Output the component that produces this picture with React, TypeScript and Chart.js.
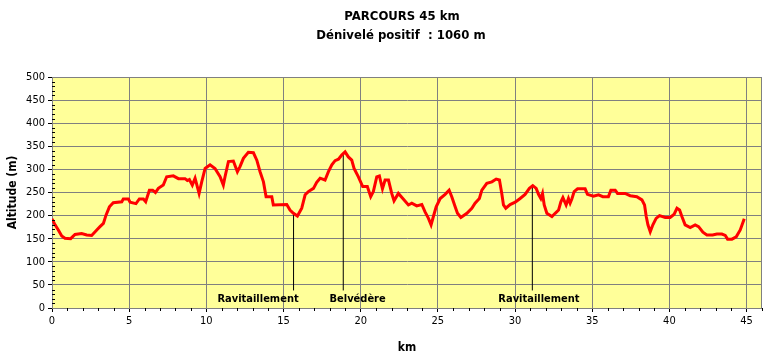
import React, { useEffect, useRef } from 'react';
import { Chart, registerables } from 'chart.js';
Chart.register(...registerables);

const kmValues = [
  0.0, 0.2, 0.41, 0.63, 0.84, 1.21, 1.49, 1.92, 2.25, 2.57, 2.9, 3.11, 3.33, 3.5, 3.72, 3.97, 4.52, 4.62, 4.95, 5.06,
  5.44, 5.66, 5.92, 6.07, 6.31, 6.52, 6.7, 6.89, 7.21, 7.43, 7.86, 8.19, 8.62, 8.77, 8.9, 9.09, 9.27, 9.53, 9.7, 9.92,
  10.24, 10.56, 10.89, 11.1, 11.21, 11.43, 11.75, 12.01, 12.18, 12.4, 12.72, 13.05, 13.27, 13.48, 13.7, 13.87, 14.24, 14.34, 15.21, 15.42,
  15.64, 15.9, 16.18, 16.4, 16.61, 16.94, 17.15, 17.37, 17.69, 17.91, 18.13, 18.34, 18.56, 18.77, 18.99, 19.2, 19.42, 19.57, 19.85, 20.13,
  20.43, 20.65, 20.82, 21.04, 21.21, 21.41, 21.58, 21.8, 22.01, 22.16, 22.44, 22.73, 23.09, 23.31, 23.63, 23.96, 24.17, 24.39, 24.56, 24.71,
  24.89, 25.15, 25.47, 25.73, 25.9, 26.12, 26.27, 26.49, 26.88, 27.2, 27.41, 27.69, 27.85, 28.17, 28.5, 28.78, 28.99, 29.14, 29.25, 29.4,
  29.68, 30.01, 30.33, 30.65, 30.93, 31.15, 31.37, 31.52, 31.67, 31.78, 31.89, 32.06, 32.39, 32.6, 32.82, 32.97, 33.1, 33.31, 33.46, 33.57,
  33.68, 33.83, 34.05, 34.54, 34.69, 35.08, 35.41, 35.69, 36.05, 36.21, 36.49, 36.64, 37.13, 37.46, 37.89, 38.22, 38.39, 38.5, 38.61, 38.76,
  38.93, 39.14, 39.36, 39.73, 40.05, 40.31, 40.49, 40.66, 40.81, 41.02, 41.35, 41.67, 41.89, 42.17, 42.43, 42.8, 43.08, 43.4, 43.62, 43.77,
  44.05, 44.33, 44.59, 44.85,
];

const altitudeValues = [
  193, 180, 169, 156, 151, 150, 159, 161, 158, 157, 169, 176, 183, 201, 219, 228, 230, 236, 236, 229,
  226, 236, 236, 230, 255, 255, 250, 259, 266, 284, 286, 280, 280, 276, 278, 266, 281, 248, 273, 302,
  310, 302, 284, 266, 284, 317, 318, 295, 306, 324, 337, 336, 320, 295, 273, 241, 241, 223, 224, 212,
  205, 199, 216, 245, 252, 259, 272, 281, 277, 295, 310, 319, 322, 331, 338, 327, 320, 302, 284, 263,
  263, 241, 252, 284, 286, 258, 277, 277, 248, 232, 248, 237, 223, 227, 221, 224, 208, 194, 180, 198,
  219, 237, 246, 255, 241, 219, 205, 196, 205, 216, 227, 237, 255, 270, 273, 279, 277, 248, 223, 216,
  224, 229, 237, 246, 259, 265, 259, 246, 237, 248, 223, 205, 198, 205, 212, 230, 239, 223, 237, 227,
  236, 252, 258, 258, 246, 242, 245, 241, 241, 255, 255, 248, 248, 243, 241, 234, 223, 198, 180, 165,
  180, 194, 200, 196, 196, 203, 216, 212, 198, 180, 174, 180, 176, 164, 158, 158, 160, 160, 157, 149,
  149, 154, 169, 193,
];

const markerKm = [15.65, 18.87, 31.12];
const markerTop = [203, 335, 263];
const markerBottom = 38;
const markerLabels = ['Ravitaillement', 'Belvédère', 'Ravitaillement'];
const markerLabelKm = [13.35, 19.8, 31.55];
const markerLabelAlt = 19;

const titleLines = ['PARCOURS 45 km', 'Dénivelé positif  : 1060 m'];
const xAxisTitle = 'km';
const yAxisTitle = 'Altitude (m)';

const FONT = "'Liberation Sans Narrow', 'DejaVu Sans Condensed', Arial, sans-serif";

const decorPlugin = {
  id: 'decor',
  beforeDraw(chart: any) {
    const { ctx, chartArea: a, width, height } = chart;
    ctx.save();
    ctx.fillStyle = '#ffffff';
    ctx.fillRect(0, 0, width, height);
    ctx.fillStyle = '#ffff99';
    ctx.fillRect(a.left, a.top, a.right - a.left, a.bottom - a.top);
    ctx.restore();
  },
  beforeDatasetsDraw(chart: any) {
    const { ctx, chartArea: a } = chart;
    ctx.save();
    ctx.strokeStyle = '#808080';
    ctx.lineWidth = 1;
    ctx.strokeRect(a.left + 0.5, a.top + 0.5, a.right - a.left - 1, a.bottom - a.top);
    ctx.restore();
  },
  afterDraw(chart: any) {
    const { ctx, chartArea: a } = chart;
    const xs = chart.scales.x;
    const ys = chart.scales.y;
    ctx.save();
    // minor ticks
    ctx.strokeStyle = '#000000';
    ctx.lineWidth = 1;
    ctx.beginPath();
    for (let v = 0; v <= 500; v += 10) {
      if (v % 50 === 0) continue;
      const y = Math.round(ys.getPixelForValue(v)) + 0.5;
      ctx.moveTo(a.left, y);
      ctx.lineTo(a.left + 3, y);
    }
    for (let k = 0; k <= 46; k += 1) {
      if (k % 5 === 0) continue;
      const x = Math.round(xs.getPixelForValue(k)) + 0.5;
      ctx.moveTo(x, a.bottom);
      ctx.lineTo(x, a.bottom + 3);
    }
    ctx.stroke();

    // marker labels
    ctx.fillStyle = '#000000';
    ctx.font = `bold 11px ${FONT}`;
    ctx.textAlign = 'center';
    ctx.textBaseline = 'middle';
    markerLabels.forEach((t, i) => {
      ctx.fillText(t, xs.getPixelForValue(markerLabelKm[i]), ys.getPixelForValue(markerLabelAlt));
    });

    // titles
    ctx.font = `bold 13px ${FONT}`;
    ctx.fillText(titleLines[0], 402, 17);
    ctx.fillText(titleLines[1], 401, 36);

    // axis titles
    ctx.font = `bold 12px ${FONT}`;
    ctx.fillText(xAxisTitle, (a.left + a.right) / 2, 348);
    ctx.translate(13, (a.top + a.bottom) / 2);
    ctx.rotate(-Math.PI / 2);
    ctx.fillText(yAxisTitle, 0, 0);
    ctx.restore();
  },
};

export default function App() {
  const ref = useRef<HTMLCanvasElement>(null);
  useEffect(() => {
    if (!ref.current) return;
    const tickFont = { family: FONT, size: 11 };
    const datasets: any[] = [
      {
        data: kmValues.map((k, i) => ({ x: k, y: altitudeValues[i] })),
        borderColor: '#ff0000',
        borderWidth: 3,
        pointRadius: 0,
        tension: 0,
        fill: false,
      },
      ...markerKm.map((k, i) => ({
        data: [
          { x: k, y: markerBottom },
          { x: k, y: markerTop[i] },
        ],
        borderColor: '#000000',
        borderWidth: 1,
        pointRadius: 0,
        fill: false,
      })),
    ];
    const chart = new Chart(ref.current, {
      type: 'line',
      data: { datasets },
      plugins: [decorPlugin],
      options: {
        animation: false,
        responsive: false,
        maintainAspectRatio: false,
        layout: { padding: { top: 77, right: 10, left: 0, bottom: 0 } },
        plugins: { legend: { display: false }, tooltip: { enabled: false }, title: { display: false } },
        scales: {
          x: {
            type: 'linear',
            min: 0,
            max: 46,
            afterFit: (s: any) => {
              s.height = 54;
            },
            ticks: {
              stepSize: 5,
              includeBounds: false,
              autoSkip: false,
              maxRotation: 0,
              color: '#000000',
              font: tickFont,
              padding: 3,
            },
            grid: { color: '#808080', tickLength: 4, tickColor: '#000000' },
            border: { color: '#000000' },
          },
          y: {
            type: 'linear',
            min: 0,
            max: 500,
            afterFit: (s: any) => {
              s.width = 52;
            },
            ticks: { stepSize: 50, color: '#000000', font: tickFont, padding: 3 },
            grid: { color: '#808080', tickLength: 4, tickColor: '#000000' },
            border: { color: '#000000' },
          },
        },
      } as any,
    });
    return () => chart.destroy();
  }, []);
  return (
    <div style={{ position: 'fixed', left: 0, top: 0, width: 772, height: 362, background: '#fff' }}>
      <canvas ref={ref} width={772} height={362} style={{ width: 772, height: 362, display: 'block' }} />
    </div>
  );
}
